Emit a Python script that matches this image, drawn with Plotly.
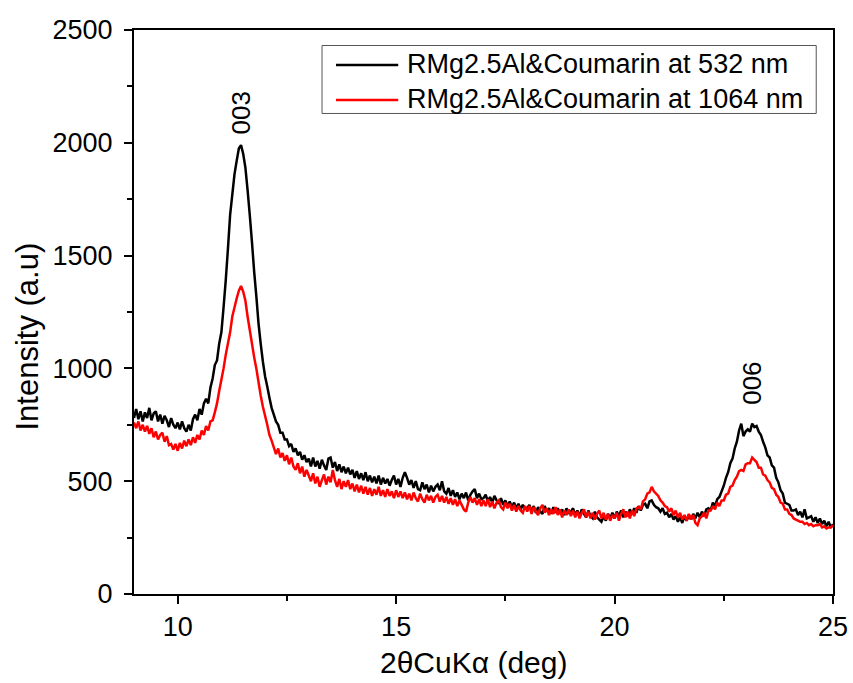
import numpy as np
import plotly.graph_objects as go

# 2-theta grid (deg), 0.05 step from 9 to 25
two_theta = np.round(np.arange(9.0, 25.0001, 0.05), 2)

intensity_532 = [
    # 9.00-9.95
    780, 820, 775, 810, 765, 805, 780, 825, 770, 800, 810, 765, 795, 755, 790, 770, 740, 780, 750, 735,
    # 10.00-10.95
    760, 730, 765, 735, 720, 750, 725, 775, 795, 770, 820, 795, 845, 865, 845, 915, 955, 1015, 1035, 1110,
    # 11.00-11.95
    1160, 1270, 1390, 1530, 1680, 1770, 1860, 1920, 1975, 1990, 1950, 1890, 1790, 1680, 1560, 1430, 1320, 1200, 1110, 1030,
    # 12.00-12.95
    965, 920, 870, 825, 795, 765, 750, 715, 715, 685, 685, 655, 665, 630, 645, 615, 630, 595, 615, 585,
    # 13.00-13.95
    600, 565, 605, 565, 590, 555, 595, 570, 550, 600, 605, 560, 585, 545, 575, 540, 565, 535, 560, 530,
    # 14.00-14.95
    550, 515, 545, 510, 535, 505, 540, 500, 525, 495, 520, 490, 525, 485, 515, 490, 510, 480, 505, 525,
    # 15.00-15.95
    485, 510, 475, 515, 540, 515, 485, 505, 470, 500, 465, 460, 495, 465, 485, 450, 480, 455, 475, 485,
    # 16.00-16.95
    460, 500, 455, 445, 470, 435, 460, 430, 450, 420, 445, 425, 450, 415, 440, 455, 465, 425, 445, 420,
    # 17.00-17.95
    425, 440, 410, 430, 405, 435, 415, 400, 425, 395, 415, 390, 410, 385, 405, 380, 400, 375, 395, 380,
    # 18.00-18.95
    380, 395, 365, 390, 360, 385, 365, 355, 390, 365, 380, 355, 385, 360, 380, 355, 375, 350, 380, 360,
    # 19.00-19.95
    365, 380, 350, 370, 345, 375, 355, 340, 370, 345, 335, 365, 340, 330, 320, 345, 325, 355, 335, 360,
    # 20.00-20.95
    335, 365, 345, 370, 340, 365, 345, 375, 355, 380, 360, 390, 370, 395, 400, 380, 410, 415, 395, 385,
    # 21.00-21.95
    380, 365, 380, 355, 360, 340, 355, 330, 345, 320, 340, 315, 345, 325, 350, 330, 355, 335, 360, 340,
    # 22.00-22.95
    365, 345, 375, 380, 370, 405, 390, 420, 430, 455, 480, 515, 540, 580, 600, 645, 675, 725, 755, 700,
    # 23.00-23.95
    720, 730, 720, 755, 740, 745, 720, 705, 675, 650, 615, 605, 570, 560, 515, 495, 460, 445, 405, 400,
    # 24.00-25.00
    395, 370, 370, 375, 350, 365, 340, 375, 335, 340, 345, 320, 340, 315, 335, 310, 325, 300, 320, 295, 310,
]

intensity_1064 = [
    # 9.00-9.95
    760, 735, 765, 725, 750, 720, 745, 710, 735, 695, 720, 685, 705, 715, 675, 700, 660, 665, 640, 665,
    # 10.00-10.95
    635, 670, 645, 680, 655, 685, 660, 695, 670, 705, 685, 725, 705, 745, 725, 765, 770, 805, 845, 900,
    # 11.00-11.95
    950, 1000, 1060, 1110, 1160, 1230, 1270, 1310, 1345, 1365, 1340, 1300, 1230, 1170, 1110, 1050, 1000, 940, 880, 830,
    # 12.00-12.95
    790, 750, 705, 680, 650, 620, 645, 605, 625, 590, 615, 575, 605, 565, 550, 580, 535, 565, 520, 550,
    # 13.00-13.95
    525, 500, 535, 490, 520, 475, 505, 530, 485, 520, 495, 550, 505, 475, 510, 465, 500, 475, 505, 465,
    # 14.00-14.95
    490, 455, 485, 450, 480, 445, 475, 440, 470, 435, 465, 440, 475, 435, 460, 430, 465, 435, 455, 425,
    # 15.00-15.95
    460, 430, 455, 425, 450, 420, 445, 415, 450, 425, 410, 445, 420, 405, 440, 415, 435, 405, 430, 440,
    # 16.00-16.95
    410, 435, 405, 430, 400, 425, 395, 420, 390, 415, 395, 375, 365, 405, 430, 405, 425, 395, 420, 390,
    # 17.00-17.95
    415, 390, 420, 385, 410, 380, 405, 415, 385, 375, 405, 380, 400, 370, 395, 365, 390, 370, 360, 390,
    # 18.00-18.95
    365, 390, 355, 385, 365, 350, 380, 395, 360, 380, 350, 375, 355, 385, 350, 375, 340, 370, 350, 375,
    # 19.00-19.95
    345, 370, 340, 365, 335, 360, 375, 340, 365, 335, 360, 330, 355, 370, 335, 360, 330, 355, 325, 350,
    # 20.00-20.95
    335, 360, 325, 355, 375, 340, 365, 335, 370, 345, 380, 385, 375, 410, 420, 445, 450, 475, 455, 445,
    # 21.00-21.95
    435, 415, 405, 390, 385, 365, 380, 350, 370, 340, 360, 330, 350, 325, 355, 330, 350, 315, 305, 335,
    # 22.00-22.95
    345, 360, 335, 370, 370, 390, 375, 405, 390, 415, 415, 440, 445, 475, 480, 505, 520, 545, 550, 545,
    # 23.00-23.95
    575, 580, 580, 605, 595, 585, 560, 560, 530, 525, 505, 495, 470, 465, 440, 430, 405, 400, 375, 375,
    # 24.00-25.00
    355, 350, 335, 330, 325, 320, 320, 310, 315, 305, 310, 300, 305, 305, 310, 295, 300, 290, 295, 295, 305,
]

series_names = ["RMg2.5Al&Coumarin at 532 nm", "RMg2.5Al&Coumarin at 1064 nm"]
series_colors = ["#000000", "#ff0000"]

peak_labels = ["003", "006"]
peak_pos = [11.45, 23.14]
peak_label_y = [2130, 935]

x_tickvals = [10, 15, 20, 25]
y_tickvals = [0, 500, 1000, 1500, 2000, 2500]

FONT = "Liberation Sans, Arial, sans-serif"

fig = go.Figure()
for name, col, ys in zip(series_names, series_colors, [intensity_532, intensity_1064]):
    fig.add_trace(go.Scatter(x=two_theta, y=ys, mode="lines", name=name, showlegend=False,
                             line=dict(color=col, width=2.5, simplify=False)))

for lab, xp, yp in zip(peak_labels, peak_pos, peak_label_y):
    fig.add_annotation(x=xp, y=yp, text=lab, textangle=-90, showarrow=False,
                       xanchor="center", yanchor="middle",
                       font=dict(family=FONT, size=26, color="black"))

# legend drawn as box + sample lines + text (paper coordinates)
leg_box = dict(x0=0.269, x1=0.976, y0=0.852, y1=0.9725)
leg_line_x = [0.289, 0.378]
leg_row_y = [0.938, 0.876]
fig.add_shape(type="rect", xref="paper", yref="paper", line=dict(color="#555", width=1),
              fillcolor="white", layer="above", **leg_box)
for name, col, ry in zip(series_names, series_colors, leg_row_y):
    fig.add_shape(type="line", xref="paper", yref="paper", x0=leg_line_x[0], x1=leg_line_x[1],
                  y0=ry, y1=ry, line=dict(color=col, width=2.5), layer="above")
    fig.add_annotation(xref="paper", yref="paper", x=0.388, y=ry + 0.002, text=name,
                       showarrow=False, xanchor="left", yanchor="middle",
                       font=dict(family=FONT, size=27, color="black"))

# axis titles
fig.add_annotation(xref="paper", yref="paper", x=0.486, y=-0.121, text="2θCuKα (deg)",
                   showarrow=False, xanchor="center", yanchor="middle",
                   font=dict(family=FONT, size=30, color="black"))
fig.add_annotation(xref="paper", yref="paper", x=-0.152, y=0.456, text="Intensity (a.u)",
                   textangle=-90, showarrow=False, xanchor="center", yanchor="middle",
                   font=dict(family=FONT, size=31, color="black"))

axis_common = dict(showline=True, linecolor="black", linewidth=2, mirror=True,
                   ticks="outside", ticklen=8, tickwidth=2, tickcolor="black",
                   showgrid=False, zeroline=False,
                   tickfont=dict(family=FONT, size=27, color="black"))

fig.update_xaxes(range=[9, 25], tickvals=x_tickvals,
                 minor=dict(ticks="outside", ticklen=5, tickwidth=2, tickcolor="black",
                            tickvals=[12.5, 17.5, 22.5], showgrid=False),
                 ticklabelstandoff=0, **axis_common)
fig.update_yaxes(range=[0, 2500], tickvals=y_tickvals,
                 minor=dict(ticks="outside", ticklen=5, tickwidth=2, tickcolor="black",
                            tickvals=[250, 750, 1250, 1750, 2250], showgrid=False),
                 ticklabelstandoff=6, **axis_common)

fig.update_layout(
    width=853, height=683,
    margin=dict(l=134, r=20, t=30, b=89, autoexpand=False),
    paper_bgcolor="white", plot_bgcolor="white",
    font=dict(family=FONT, color="black"),
    showlegend=False,
)

fig.write_html("out.html")
